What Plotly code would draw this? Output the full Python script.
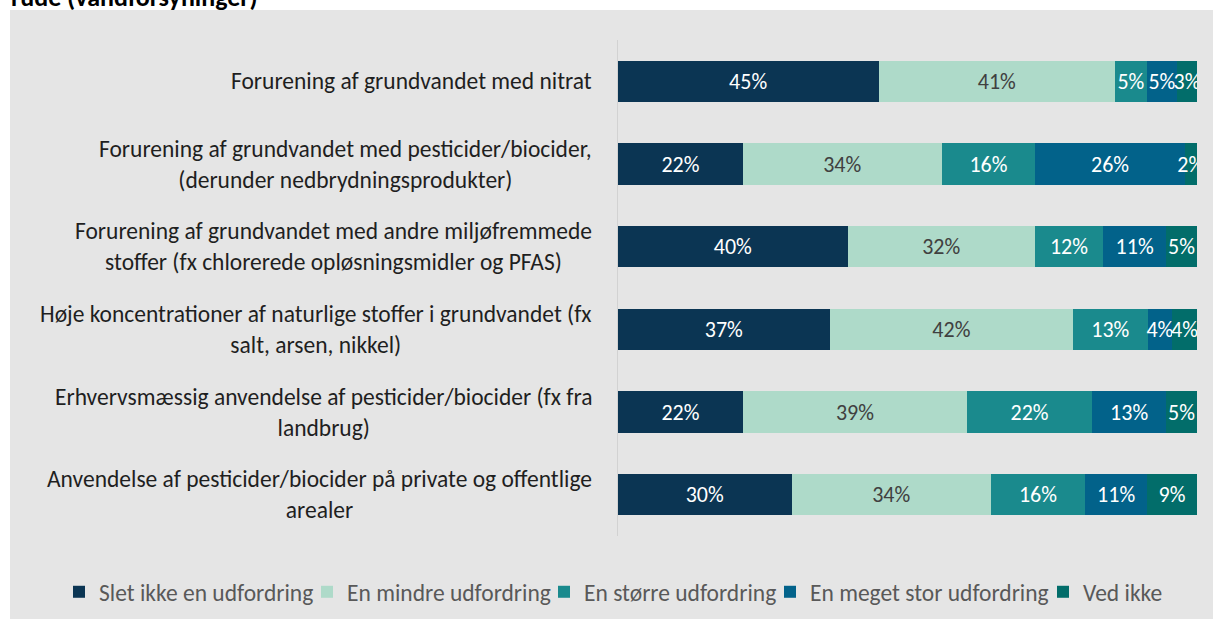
import plotly.graph_objects as go

categories = [
    "Forurening af grundvandet med nitrat",
    "Forurening af grundvandet med pesticider/biocider,<br>(derunder nedbrydningsprodukter)",
    "Forurening af grundvandet med andre miljøfremmede<br>stoffer (fx chlorerede opløsningsmidler og PFAS)",
    "Høje koncentrationer af naturlige stoffer i grundvandet (fx<br>salt, arsen, nikkel)",
    "Erhvervsmæssig anvendelse af pesticider/biocider (fx fra<br>landbrug)",
    "Anvendelse af pesticider/biocider på private og offentlige<br>arealer",
]

series_names = [
    "Slet ikke en udfordring",
    "En mindre udfordring",
    "En større udfordring",
    "En meget stor udfordring",
    "Ved ikke",
]

slet_ikke = [45.0, 21.6, 39.7, 36.6, 21.6, 30.0]
mindre = [40.9, 34.3, 32.3, 42.0, 38.7, 34.4]
stoerre = [5.4, 16.2, 11.8, 12.9, 21.6, 16.3]
meget_stor = [5.3, 25.8, 10.9, 4.2, 12.8, 10.7]
ved_ikke = [3.4, 2.1, 5.3, 4.3, 5.3, 8.6]

series_values = [slet_ikke, mindre, stoerre, meget_stor, ved_ikke]
colors = ["#0b3553", "#aedac9", "#1a8a8d", "#02628a", "#026d6a"]
text_colors = ["#ffffff", "#404040", "#ffffff", "#ffffff", "#ffffff"]

FONT = "Carlito, Calibri, Lato, sans-serif"

W, H = 1213, 619
L, R, T, B = 618, 16, 40, 83
pw = W - L - R
ph = H - T - B

def px_x(p):
    return (p - L) / pw

def px_y(p):
    return (H - B - p) / ph

# legend text start positions (pixels) for the one-entry legends
legend_text_x = [99, 347, 584, 810, 1083]
legend_ids = ["legend", "legend2", "legend3", "legend4", "legend5"]

fig = go.Figure()
for name, vals, col, tcol, lid in zip(series_names, series_values, colors, text_colors, legend_ids):
    fig.add_trace(go.Bar(
        y=categories,
        x=vals,
        name=name,
        orientation="h",
        legend=lid,
        marker=dict(color=col, line=dict(width=0)),
        texttemplate="%{x:.0f}%",
        textposition="inside",
        insidetextanchor="middle",
        textangle=0,
        constraintext="none",
        textfont=dict(color=tcol, size=22, family=FONT),
    ))

annotations = []
for cat in categories:
    annotations.append(dict(
        x=px_x(594), xref="paper", y=cat, yref="y",
        text=cat, showarrow=False, xanchor="right", yanchor="middle",
        align="center", font=dict(size=23.5, color="#1f1f1f", family=FONT),
    ))

annotations.append(dict(
    x=px_x(9), xref="paper", y=px_y(-3), yref="paper",
    text="<b>rude (vandforsyninger)</b>", showarrow=False,
    xanchor="left", yanchor="middle",
    font=dict(size=26, color="#000000", family=FONT),
))

legend_layouts = {}
for lid, tx in zip(legend_ids, legend_text_x):
    legend_layouts[lid] = dict(
        orientation="h", xref="paper", yref="paper",
        x=px_x(tx - 40), xanchor="left",
        y=px_y(592), yanchor="middle",
        font=dict(size=23.5, color="#595959", family=FONT),
        bgcolor="rgba(0,0,0,0)", itemwidth=30,
        itemclick=False, itemdoubleclick=False,
    )

fig.update_layout(
    width=W, height=H,
    barmode="stack",
    bargap=0.5,
    margin=dict(l=L, r=R, t=T, b=B, pad=0, autoexpand=False),
    paper_bgcolor="#ffffff",
    plot_bgcolor="rgba(0,0,0,0)",
    shapes=[dict(
        type="rect", xref="paper", yref="paper",
        x0=px_x(10), x1=px_x(1215), y0=px_y(621), y1=px_y(10),
        fillcolor="#e5e5e5", line=dict(width=0), layer="below",
    )],
    annotations=annotations,
    xaxis=dict(range=[0, 100], showgrid=False, zeroline=False,
               showticklabels=False, showline=False, fixedrange=True),
    yaxis=dict(autorange="reversed", showticklabels=False, showgrid=False,
               zeroline=False, showline=True, linecolor="#d2d2d2", linewidth=1,
               ticks=""),
    showlegend=True,
    **legend_layouts,
)

fig.write_html(
    "out.html",
    config={"displayModeBar": False},
    post_script="document.body.style.margin='0';document.body.style.overflow='hidden';",
)
